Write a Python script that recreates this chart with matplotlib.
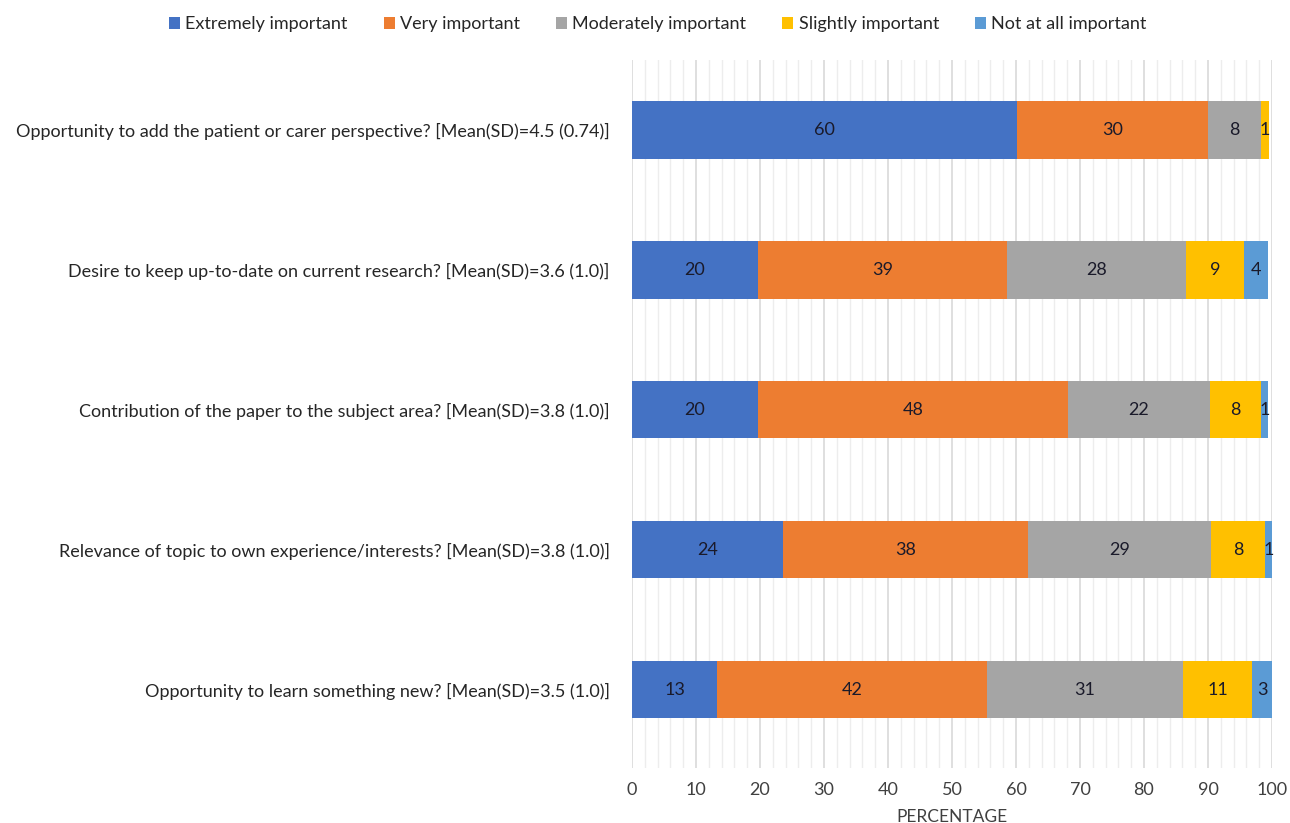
import matplotlib
matplotlib.use("Agg")
import matplotlib.pyplot as plt
import numpy as np
from matplotlib.ticker import MultipleLocator

categories = [
    "Opportunity to add the patient or carer perspective? [Mean(SD)=4.5 (0.74)]",
    "Desire to keep up-to-date on current research? [Mean(SD)=3.6 (1.0)]",
    "Contribution of the paper to the subject area? [Mean(SD)=3.8 (1.0)]",
    "Relevance of topic to own experience/interests? [Mean(SD)=3.8 (1.0)]",
    "Opportunity to learn something new? [Mean(SD)=3.5 (1.0)]",
]
series_names = ["Extremely important", "Very important", "Moderately important",
                "Slightly important", "Not at all important"]
extremely = [60.2, 19.7, 19.7, 23.6, 13.3]
very = [29.8, 38.9, 48.4, 38.3, 42.2]
moderately = [8.3, 28.0, 22.2, 28.6, 30.6]
slightly = [1.2, 9.0, 8.0, 8.4, 10.8]
not_at_all = [0.0, 3.8, 1.1, 1.1, 3.1]
labels_extremely = ["60", "20", "20", "24", "13"]
labels_very = ["30", "39", "48", "38", "42"]
labels_moderately = ["8", "28", "22", "29", "31"]
labels_slightly = ["1", "9", "8", "8", "11"]
labels_not_at_all = ["", "4", "1", "1", "3"]

colors = ["#4472C4", "#ED7D31", "#A5A5A5", "#FFC000", "#5B9BD5"]

plt.rcParams['font.family'] = ['Lato', 'DejaVu Sans']

fig = plt.figure(figsize=(12.9, 8.23), dpi=100)
ax = fig.add_axes([632/1290, 1-768/823, 640/1290, 708/823])

ypos = np.arange(len(categories))[::-1]
data = [extremely, very, moderately, slightly, not_at_all]
labs = [labels_extremely, labels_very, labels_moderately, labels_slightly, labels_not_at_all]
left = np.zeros(len(categories))
for vals, name, col, lab in zip(data, series_names, colors, labs):
    vals = np.array(vals)
    bars = ax.barh(ypos, vals, left=left, height=0.41, color=col, label=name, zorder=3)
    for b, v, l, y0 in zip(bars, vals, lab, left):
        if l:
            ax.text(y0 + v/2, b.get_y() + b.get_height()/2, l, ha='center', va='center',
                    fontsize=13, color='#1a1a2a', zorder=4)
    left = left + vals

ax.set_xlim(0, 100)
ax.set_ylim(-0.56, 4.5)
ax.set_yticks(ypos)
ax.set_yticklabels(categories, fontsize=13.0, color='#262626')
ax.xaxis.set_major_locator(MultipleLocator(10))
ax.xaxis.set_minor_locator(MultipleLocator(2))
ax.grid(which='major', axis='x', color='#d9d9d9', linewidth=1.2, zorder=0)
ax.grid(which='minor', axis='x', color='#ededed', linewidth=1.0, zorder=0)
ax.tick_params(axis='both', which='both', length=0)
ax.tick_params(axis='x', labelsize=13, labelcolor='#404040', pad=10)
ax.tick_params(axis='y', pad=16)
for s in ax.spines.values():
    s.set_visible(False)
ax.set_xlabel("PERCENTAGE", fontsize=12.5, color='#404040', labelpad=8)

handles, lbls = ax.get_legend_handles_labels()
fig.legend(handles, lbls, loc='upper center', bbox_to_anchor=(0.51, 1.0), ncol=5,
           frameon=False, fontsize=13.0, handlelength=0.6, handleheight=0.6,
           handletextpad=0.3, columnspacing=2.0, labelcolor='#262626')

fig.savefig("out.png", dpi=100)
